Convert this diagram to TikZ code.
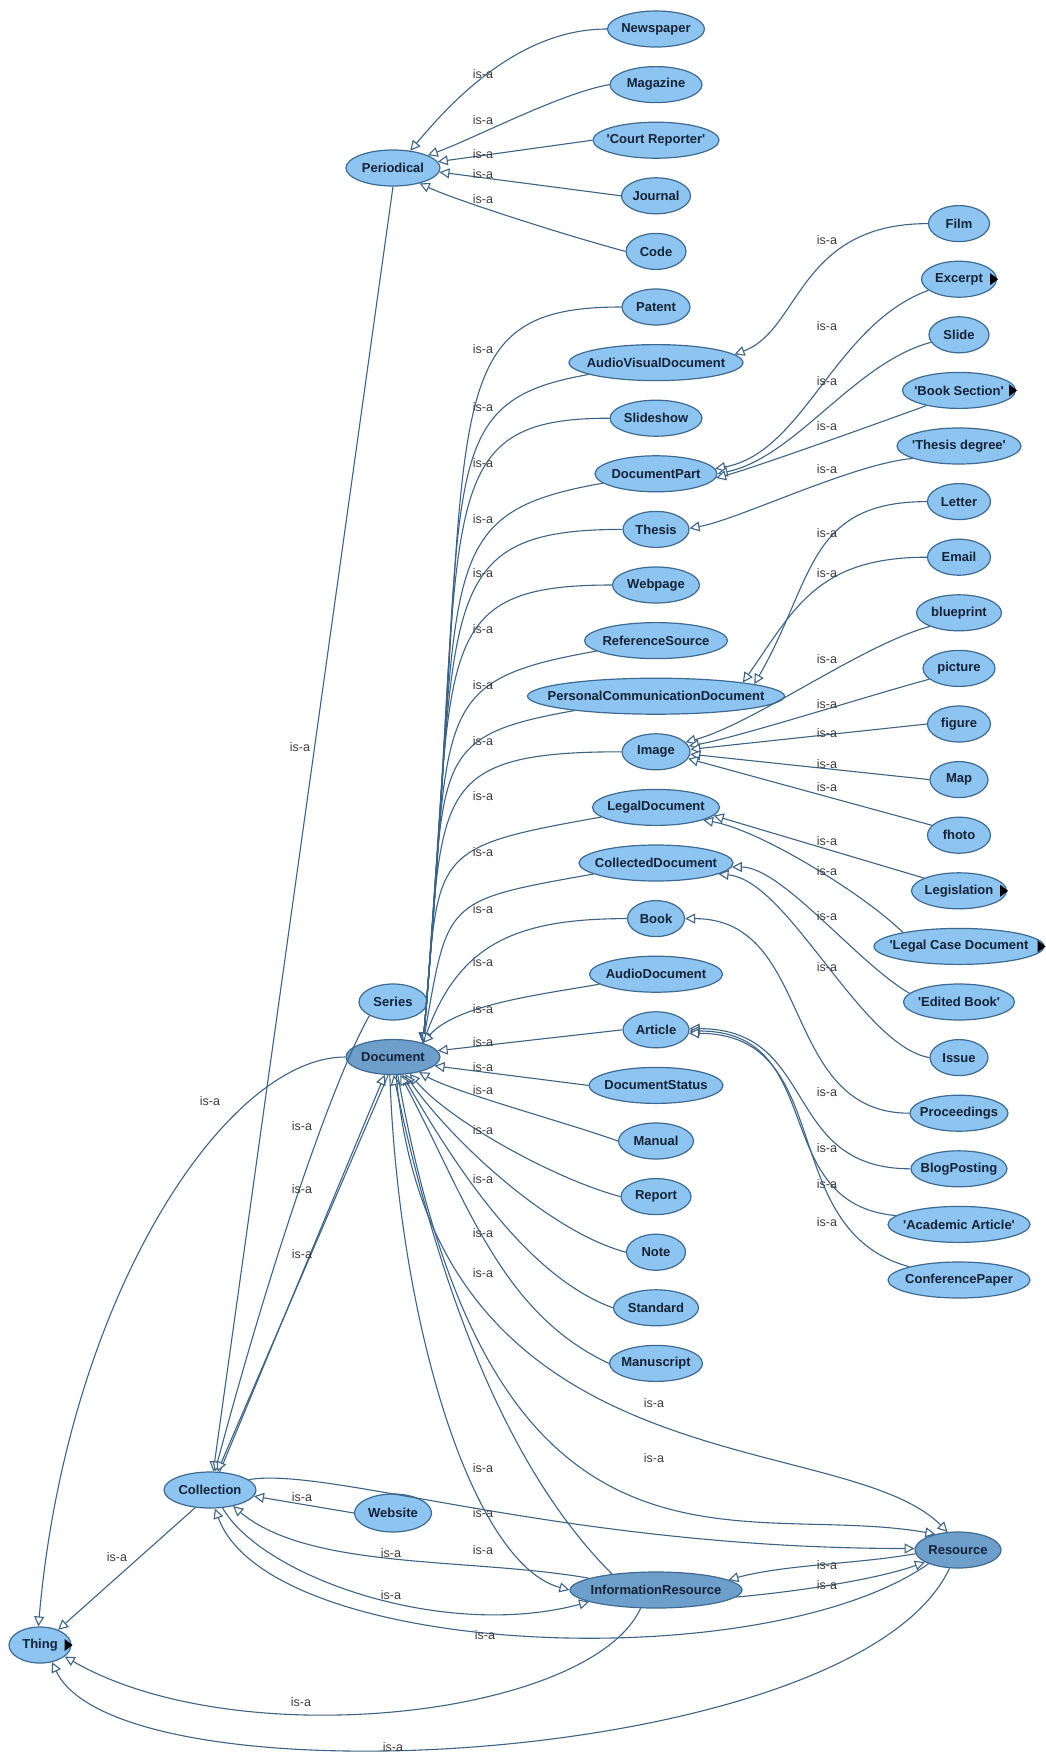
\documentclass[tikz,border=0pt]{standalone}
\usepackage{fontspec}
\usepackage{tikz}
\usetikzlibrary{arrows.meta,shapes.geometric}

\newfontfamily\clsfont{Liberation Sans}
\definecolor{clsfill}{HTML}{8EC5F0}
\definecolor{topfill}{HTML}{6E9FCB}
\definecolor{clsline}{HTML}{3C6A92}
\definecolor{edgeline}{HTML}{3D6384}
\definecolor{clstext}{HTML}{142238}
\definecolor{lbltext}{HTML}{3A3A3A}
\newcommand{\clsname}[1]{\makebox[0pt]{#1}}

\begin{document}
\begin{tikzpicture}[x=1pt,y=1pt,>={Triangle[length=10pt,width=10pt,fill=white]},node distance=55.6pt,
    cls/.style={ellipse,draw=clsline,fill=clsfill,line width=1.2pt,minimum height=36pt,inner sep=0pt,
      text=clstext,font=\clsfont\bfseries\fontsize{13}{15}\selectfont},
    topcls/.style={cls,fill=topfill},
    isa/.style={->,draw=edgeline,line width=1.1pt},
    lbl/.style={text=lbltext,inner sep=0pt,font=\clsfont\fontsize{12.5}{14}\selectfont}]

  \useasboundingbox (0,0) rectangle (1045,-1753);

  % left column
  \node[cls,minimum width=97pt] (newspaper) at (656,-29) {\clsname{Newspaper}};
  \node[cls,minimum width=92pt] (magazine) [below of=newspaper] {\clsname{Magazine}};
  \node[cls,minimum width=126pt] (courtrep) [below of=magazine] {\clsname{'Court Reporter'}};
  \node[cls,minimum width=69pt] (journal) [below of=courtrep] {\clsname{Journal}};
  \node[cls,minimum width=60pt] (code) [below of=journal] {\clsname{Code}};
  \node[cls,minimum width=68pt] (patent) [below of=code] {\clsname{Patent}};
  \node[cls,minimum width=174pt] (avdoc) [below of=patent] {\clsname{AudioVisualDocument}};
  \node[cls,minimum width=92pt] (slideshow) [below of=avdoc] {\clsname{Slideshow}};
  \node[cls,minimum width=122pt] (docpart) [below of=slideshow] {\clsname{DocumentPart}};
  \node[cls,minimum width=66pt] (thesis) [below of=docpart] {\clsname{Thesis}};
  \node[cls,minimum width=87pt] (webpage) [below of=thesis] {\clsname{Webpage}};
  \node[cls,minimum width=143pt] (refsource) [below of=webpage] {\clsname{ReferenceSource}};
  \node[cls,minimum width=257pt] (pcd) [below of=refsource] {\clsname{PersonalCommunicationDocument}};
  \node[cls,minimum width=68pt] (image) [below of=pcd] {\clsname{Image}};
  \node[cls,minimum width=127pt] (legaldoc) [below of=image] {\clsname{LegalDocument}};
  \node[cls,minimum width=154pt] (colldoc) [below of=legaldoc] {\clsname{CollectedDocument}};
  \node[cls,minimum width=57pt] (book) [below of=colldoc] {\clsname{Book}};
  \node[cls,minimum width=133pt] (audiodoc) [below of=book] {\clsname{AudioDocument}};
  \node[cls,minimum width=66pt] (article) [below of=audiodoc] {\clsname{Article}};
  \node[cls,minimum width=134pt] (docstatus) [below of=article] {\clsname{DocumentStatus}};
  \node[cls,minimum width=75pt] (manual) [below of=docstatus] {\clsname{Manual}};
  \node[cls,minimum width=70pt] (report) [below of=manual] {\clsname{Report}};
  \node[cls,minimum width=59pt] (note) [below of=report] {\clsname{Note}};
  \node[cls,minimum width=85pt] (standard) [below of=note] {\clsname{Standard}};
  \node[cls,minimum width=93pt] (manuscript) [below of=standard] {\clsname{Manuscript}};

  % right column
  \node[cls,minimum width=61pt] (film) at (959,-223.6) {\clsname{Film}};
  \node[cls,minimum width=75pt] (excerpt) [below of=film] {\clsname{Excerpt}};
  \node[cls,minimum width=60pt] (slide) [below of=excerpt] {\clsname{Slide}};
  \node[cls,minimum width=113pt] (booksection) [below of=slide] {\clsname{'Book Section'}};
  \node[cls,minimum width=124pt] (thesisdeg) [below of=booksection] {\clsname{'Thesis degree'}};
  \node[cls,minimum width=63pt] (letter) [below of=thesisdeg] {\clsname{Letter}};
  \node[cls,minimum width=63pt] (email) [below of=letter] {\clsname{Email}};
  \node[cls,minimum width=85pt] (blueprint) [below of=email] {\clsname{blueprint}};
  \node[cls,minimum width=72pt] (picture) [below of=blueprint] {\clsname{picture}};
  \node[cls,minimum width=63pt] (figure) [below of=picture] {\clsname{figure}};
  \node[cls,minimum width=58pt] (map) [below of=figure] {\clsname{Map}};
  \node[cls,minimum width=63pt] (fhoto) [below of=map] {\clsname{fhoto}};
  \node[cls,minimum width=95pt] (legislation) [below of=fhoto] {\clsname{Legislation}};
  \node[cls,minimum width=170pt] (legalcase) [below of=legislation] {\clsname{'Legal Case Document}};
  \node[cls,minimum width=111pt] (editedbook) [below of=legalcase] {\clsname{'Edited Book'}};
  \node[cls,minimum width=58pt] (issue) [below of=editedbook] {\clsname{Issue}};
  \node[cls,minimum width=98pt] (proceedings) [below of=issue] {\clsname{Proceedings}};
  \node[cls,minimum width=96pt] (blogposting) [below of=proceedings] {\clsname{BlogPosting}};
  \node[cls,minimum width=142pt] (academic) [below of=blogposting] {\clsname{'Academic Article'}};
  \node[cls,minimum width=142pt] (confpaper) [below of=academic] {\clsname{ConferencePaper}};

  % upper classes
  \node[cls,minimum width=94pt] (periodical) at (393,-168) {\clsname{Periodical}};
  \node[cls,minimum width=68pt] (series) at (393,-1002) {\clsname{Series}};
  \node[topcls,minimum width=94pt,minimum height=35pt] (document) at (393,-1057) {\clsname{Document}};
  \node[cls,minimum width=92pt] (collection) at (210,-1490) {\clsname{Collection}};
  \node[cls,minimum width=77pt,minimum height=38pt] (website) at (393,-1513) {\clsname{Website}};
  \node[cls,minimum width=62pt] (thing) at (40,-1645) {\clsname{Thing}};
  \node[topcls,minimum width=172pt] (infores) at (656,-1590) {\clsname{InformationResource}};
  \node[topcls,minimum width=86pt] (resource) at (958,-1550) {\clsname{Resource}};

  \foreach \n in {excerpt,booksection,legislation,legalcase,thing}
    \fill[black] (\n.east) +(-7,6) -- +(1,0) -- +(-7,-6) -- cycle;

  % periodicals
  \draw[isa] (newspaper.west) to[out=180,in=50,out distance=90pt,in distance=60pt] (periodical.45) node[lbl] at (483,-74) {is-a};
  \draw[isa] (magazine.west) to[out=190,in=20,out distance=50pt,in distance=50pt] (periodical.20) node[lbl] at (483,-120) {is-a};
  \draw[isa] (courtrep.west) to (periodical.8) node[lbl] at (483,-154) {is-a};
  \draw[isa] (journal.west) to (periodical.-5) node[lbl] at (483,-174) {is-a};
  \draw[isa] (code.west) to[out=165,in=-25,out distance=60pt,in distance=40pt] (periodical.-30) node[lbl] at (483,-199) {is-a};

  % documents above Document
  \draw[isa] (patent.west) to[out=180,in=85,out distance=200pt,in distance=626pt] (document.25) node[lbl] at (483,-349) {is-a};
  \draw[isa] (avdoc.190) to[out=190,in=85,out distance=170pt,in distance=568pt] (document.25) node[lbl] at (483,-407) {is-a};
  \draw[isa] (slideshow.west) to[out=180,in=85,out distance=190pt,in distance=531pt] (document.25) node[lbl] at (483,-463) {is-a};
  \draw[isa] (docpart.190) to[out=190,in=85,out distance=183pt,in distance=476pt] (document.25) node[lbl] at (483,-519) {is-a};
  \draw[isa] (thesis.west) to[out=180,in=85,out distance=200pt,in distance=436pt] (document.25) node[lbl] at (483,-573) {is-a};
  \draw[isa] (webpage.west) to[out=180,in=85,out distance=192pt,in distance=389pt] (document.25) node[lbl] at (483,-629) {is-a};
  \draw[isa] (refsource.190) to[out=190,in=85,out distance=177pt,in distance=334pt] (document.25) node[lbl] at (483,-685) {is-a};
  \draw[isa] (pcd.190) to[out=190,in=85,out distance=156pt,in distance=283pt] (document.25) node[lbl] at (483,-741) {is-a};
  \draw[isa] (image.west) to[out=180,in=85,out distance=200pt,in distance=247pt] (document.25) node[lbl] at (483,-796) {is-a};
  \draw[isa] (legaldoc.190) to[out=190,in=85,out distance=180pt,in distance=192pt] (document.25) node[lbl] at (483,-852) {is-a};
  \draw[isa] (colldoc.190) to[out=190,in=80,out distance=153pt,in distance=145pt] (document.25) node[lbl] at (483,-909) {is-a};
  \draw[isa] (book.west) to[out=180,in=70,out distance=112pt,in distance=105pt] (document.25) node[lbl] at (483,-962) {is-a};
  \draw[isa] (audiodoc.190) to[out=190,in=50,out distance=60pt,in distance=50pt] (document.25) node[lbl] at (483,-1009) {is-a};
  \draw[isa] (article.west) to (document.8) node[lbl] at (483,-1042) {is-a};

  % documents below Document
  \draw[isa] (docstatus.west) to (document.-12) node[lbl] at (483,-1067) {is-a};
  \draw[isa] (manual.west) to[out=160,in=-30,out distance=50pt,in distance=40pt] (document.-30) node[lbl] at (483,-1090) {is-a};
  \draw[isa] (report.west) to[out=165,in=-50,out distance=70pt,in distance=60pt] (document.-45) node[lbl] at (483,-1130) {is-a};
  \draw[isa] (note.west) to[out=165,in=-55,out distance=80pt,in distance=80pt] (document.-55) node[lbl] at (483,-1179) {is-a};
  \draw[isa] (standard.west) to[out=160,in=-60,out distance=90pt,in distance=110pt] (document.-62) node[lbl] at (483,-1233) {is-a};
  \draw[isa] (manuscript.west) to[out=155,in=-62,out distance=120pt,in distance=140pt] (document.-68) node[lbl] at (483,-1273) {is-a};

  % right column
  \draw[isa] (film.west) to[out=180,in=20,out distance=130pt,in distance=70pt] (avdoc.6) node[lbl] at (827,-240) {is-a};
  \draw[isa] (excerpt.200) to[out=200,in=10,out distance=100pt,in distance=90pt] (docpart.5) node[lbl] at (827,-326) {is-a};
  \draw[isa] (slide.195) to[out=195,in=12,out distance=80pt,in distance=80pt] (docpart.0) node[lbl] at (827,-381) {is-a};
  \draw[isa] (booksection.205) to[out=200,in=15,out distance=40pt,in distance=40pt] (docpart.-4) node[lbl] at (827,-426) {is-a};
  \draw[isa] (thesisdeg.195) to[out=185,in=10,out distance=60pt,in distance=50pt] (thesis.2) node[lbl] at (827,-469) {is-a};
  \draw[isa] (letter.west) to[out=180,in=60,out distance=120pt,in distance=120pt] (pcd.7) node[lbl] at (827,-533) {is-a};
  \draw[isa] (email.west) to[out=180,in=55,out distance=110pt,in distance=90pt] (pcd.9) node[lbl] at (827,-573) {is-a};
  \draw[isa] (blueprint.205) to[out=195,in=15,out distance=70pt,in distance=70pt] (image.18) node[lbl] at (827,-659) {is-a};
  \draw[isa] (picture.200) to[out=195,in=10,out distance=60pt,in distance=50pt] (image.10) node[lbl] at (827,-704) {is-a};
  \draw[isa] (figure.west) to (image.4) node[lbl] at (827,-733) {is-a};
  \draw[isa] (map.west) to (image.-4) node[lbl] at (827,-764) {is-a};
  \draw[isa] (fhoto.160) to (image.-12) node[lbl] at (827,-787) {is-a};
  \draw[isa] (legislation.160) to (legaldoc.-8) node[lbl] at (827,-841) {is-a};
  \draw[isa] (legalcase.166) to[out=135,in=-10,out distance=50pt,in distance=60pt] (legaldoc.-15) node[lbl] at (827,-871) {is-a};
  \draw[isa] (editedbook.170) to[out=150,in=0,out distance=60pt,in distance=50pt] (colldoc.-3) node[lbl] at (827,-916) {is-a};
  \draw[isa] (issue.west) to[out=170,in=-5,out distance=70pt,in distance=70pt] (colldoc.-10) node[lbl] at (827,-967) {is-a};
  \draw[isa] (proceedings.west) to[out=180,in=0,out distance=130pt,in distance=130pt] (book.east) node[lbl] at (827,-1092) {is-a};
  \draw[isa] (blogposting.west) to[out=180,in=0,out distance=130pt,in distance=130pt] (article.2) node[lbl] at (827,-1148) {is-a};
  \draw[isa] (academic.172) to[out=175,in=0,out distance=130pt,in distance=140pt] (article.-2) node[lbl] at (827,-1184) {is-a};
  \draw[isa] (confpaper.165) to[out=165,in=0,out distance=140pt,in distance=150pt] (article.-6) node[lbl] at (827,-1222) {is-a};

  % lower part
  \draw[isa] (periodical.south) -- (collection.80) node[lbl] at (300,-747) {is-a};
  \draw[isa] (series.-150) to[out=-120,in=75,out distance=60pt,in distance=250pt] (collection.75) node[lbl] at (302,-1126) {is-a};
  \draw[isa] (collection.62) -- (document.-115) node[lbl] at (302,-1189) {is-a};
  \draw[isa] (document.-105) -- (collection.68) node[lbl] at (302,-1254) {is-a};
  \draw[isa] (document.west) to[out=180,in=85,out distance=120pt,in distance=330pt] (thing.95) node[lbl] at (210,-1101) {is-a};
  \draw[isa] (collection.-130) -- (thing.40) node[lbl] at (117,-1557) {is-a};
  \draw[isa] (website.west) -- (collection.-8) node[lbl] at (302,-1497) {is-a};
  \draw[isa] (collection.15) to[out=10,in=180,out distance=80pt,in distance=350pt] (resource.178) node[lbl] at (483,-1513) {is-a};
  \draw[isa] (infores.170) to[out=170,in=-40,out distance=120pt,in distance=100pt] (collection.-35) node[lbl] at (391,-1553) {is-a};
  \draw[isa] (collection.-55) to[out=-60,in=195,out distance=80pt,in distance=150pt] (infores.190) node[lbl] at (391,-1595) {is-a};
  \draw[isa] (resource.205) to[out=215,in=-70,out distance=200pt,in distance=160pt] (collection.-75) node[lbl] at (485,-1635) {is-a};
  \draw[isa] (document.-100) to[out=-88,in=165,out distance=250pt,in distance=100pt] (infores.west) node[lbl] at (483,-1550) {is-a};
  \draw[isa] (infores.160) to[out=135,in=-78,out distance=100pt,in distance=300pt] (document.-88) node[lbl] at (483,-1468) {is-a};
  \draw[isa] (document.-80) to[out=-85,in=135,out distance=420pt,in distance=150pt] (resource.120) node[lbl] at (654,-1403) {is-a};
  \draw[isa] (document.-75) to[out=-80,in=170,out distance=550pt,in distance=200pt] (resource.145) node[lbl] at (654,-1458) {is-a};
  \draw[isa] (infores.-5) to[out=5,in=200,out distance=60pt,in distance=50pt] (resource.200) node[lbl] at (827,-1585) {is-a};
  \draw[isa] (resource.185) to[out=190,in=15,out distance=60pt,in distance=60pt] (infores.8) node[lbl] at (827,-1565) {is-a};
  \draw[isa] (infores.-130) to[out=-115,in=-30,out distance=120pt,in distance=200pt] (thing.-25) node[lbl] at (301,-1702) {is-a};
  \draw[isa] (resource.-115) to[out=-115,in=-65,out distance=220pt,in distance=160pt] (thing.-55) node[lbl] at (393,-1747) {is-a};

\end{tikzpicture}
\end{document}
